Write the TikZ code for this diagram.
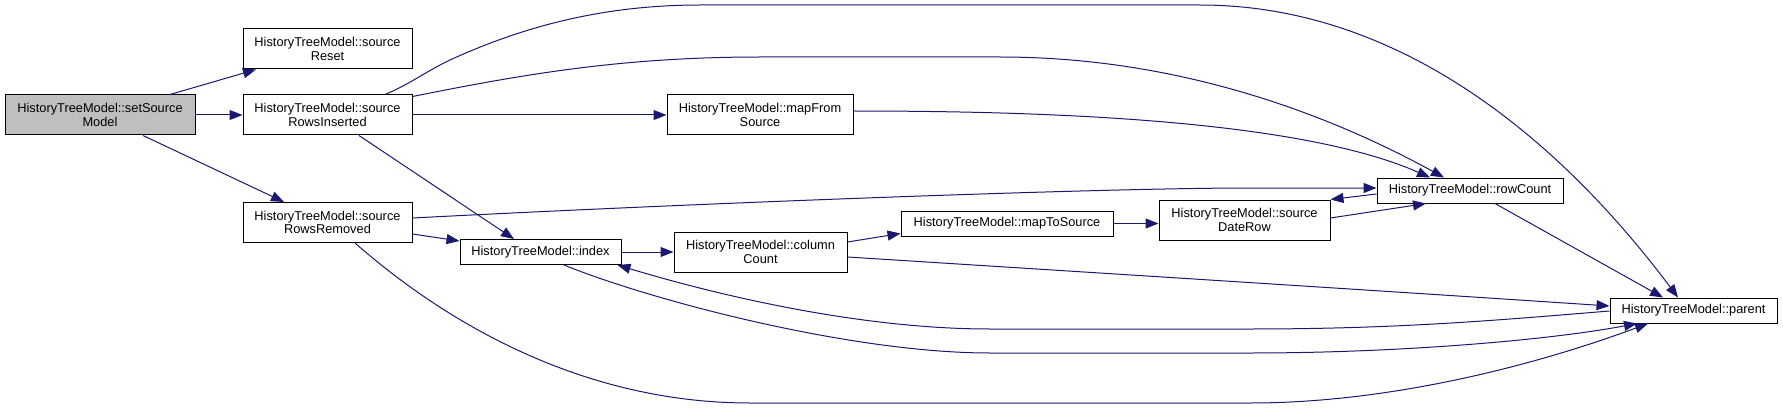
\documentclass[tikz,border=0pt]{standalone}
\usepackage{fontspec}
\setmainfont{Liberation Sans}
\usetikzlibrary{arrows.meta}
\definecolor{edgeblue}{HTML}{191970}
\definecolor{rootgray}{HTML}{BFBFBF}
\begin{document}
\begin{tikzpicture}[x=1pt,y=-1pt,
  fn/.style={draw=black, line width=1pt, fill=white, inner sep=0pt, align=center,
    font=\fontsize{12.8}{13.8}\selectfont, text=black},
  two/.style={minimum height=40pt},
  one/.style={minimum height=25pt},
  edge/.style={draw=edgeblue, line width=1pt, -{Triangle[length=13pt,width=10pt]}}]
\useasboundingbox (0,0) rectangle (1783,409);
% nodes
\node[fn, two, fill=rootgray, minimum width=190pt] (ssm) at (100,115) {HistoryTreeModel::setSource\\Model};
\node[fn, two, minimum width=169pt] (sreset) at (327.5,49) {HistoryTreeModel::source\\Reset};
\node[fn, two, minimum width=169pt] (sins) at (327.5,115) {HistoryTreeModel::source\\RowsInserted};
\node[fn, two, minimum width=169pt] (srem) at (327.5,222.5) {HistoryTreeModel::source\\RowsRemoved};
\node[fn, one, minimum width=161pt] (idx) at (540.5,252) {HistoryTreeModel::index};
\node[fn, two, minimum width=186pt] (mfs) at (760,115) {HistoryTreeModel::mapFrom\\Source};
\node[fn, two, minimum width=173pt] (cc) at (760.5,252) {HistoryTreeModel::column\\Count};
\node[fn, one, minimum width=212pt] (mts) at (1007,223.5) {HistoryTreeModel::mapToSource};
\node[fn, two, minimum width=171pt] (sdr) at (1244.5,220) {HistoryTreeModel::source\\DateRow};
\node[fn, one, minimum width=186pt] (rc) at (1470,190.5) {HistoryTreeModel::rowCount};
\node[fn, one, minimum width=167pt] (par) at (1693.5,310.5) {HistoryTreeModel::parent};
% edges
\draw[edge] ([xshift=70pt]ssm.north) -- ([xshift=-71.5pt]sreset.south);
\draw[edge] (ssm.east) -- (sins.west);
\draw[edge] ([xshift=43pt]ssm.south) -- ([xshift=-43.5pt]srem.north);
\draw[edge] ([xshift=31.5pt]sins.south) -- ([xshift=-26.5pt]idx.north);
\draw[edge] (sins.east) -- (mfs.west);
\draw[edge] ([xshift=57.5pt]sins.north) .. controls (410,84) and (425,72) .. (450,60)
  .. controls (520,28) and (600,5) .. (700,5) -- (1200,5)
  .. controls (1400,5) and (1560,140) .. ([xshift=-15.5pt]par.north);
\draw[edge] ([yshift=-2pt]sins.north east) .. controls (520,75) and (620,57) .. (760,57) -- (1000,57)
  .. controls (1180,57) and (1330,115) .. ([xshift=-26pt]rc.north);
\draw[edge] ([yshift=-11.5pt]srem.east) -- ([yshift=11pt]idx.west);
\draw[edge] ([yshift=4.5pt]srem.east) .. controls (700,203) and (1100,188) .. (1250,188) -- ([yshift=2.5pt]rc.west);
\draw[edge] ([xshift=27.5pt]srem.south) .. controls (420,300) and (560,403) .. (750,403) -- (1250,403)
  .. controls (1400,403) and (1550,360) .. ([xshift=-45.5pt]par.south);
\draw[edge] (idx.east) -- (cc.west);
\draw[edge] ([xshift=23.5pt]idx.south) .. controls (650,300) and (850,353) .. (990,353) -- (1250,353)
  .. controls (1400,353) and (1550,340) .. ([xshift=-56.5pt]par.south);
\draw[edge] ([yshift=4pt]mfs.east) .. controls (1050,111) and (1300,120) .. ([xshift=-40pt]rc.north);
\draw[edge] ([yshift=10pt]cc.east) -- ([yshift=-10pt]mts.west);
\draw[edge] ([yshift=-5pt]cc.east) .. controls (1100,273) and (1400,292) .. ([yshift=4.5pt]par.west);
\draw[edge] (mts.east) -- (mts.east -| sdr.west);
\draw[edge] ([yshift=2pt]sdr.east) -- ([xshift=-44pt]rc.south);
\draw[edge] ([yshift=-3.5pt]rc.west) -- (sdr.north east);
\draw[edge] ([xshift=25pt]rc.south) -- ([xshift=-30.5pt]par.north);
\draw[edge] ([yshift=-0.5pt]par.west) .. controls (1500,320) and (1400,329) .. (1250,329) -- (990,329)
  .. controls (850,329) and (700,290) .. ([xshift=-4pt]idx.south east);
\end{tikzpicture}
\end{document}
